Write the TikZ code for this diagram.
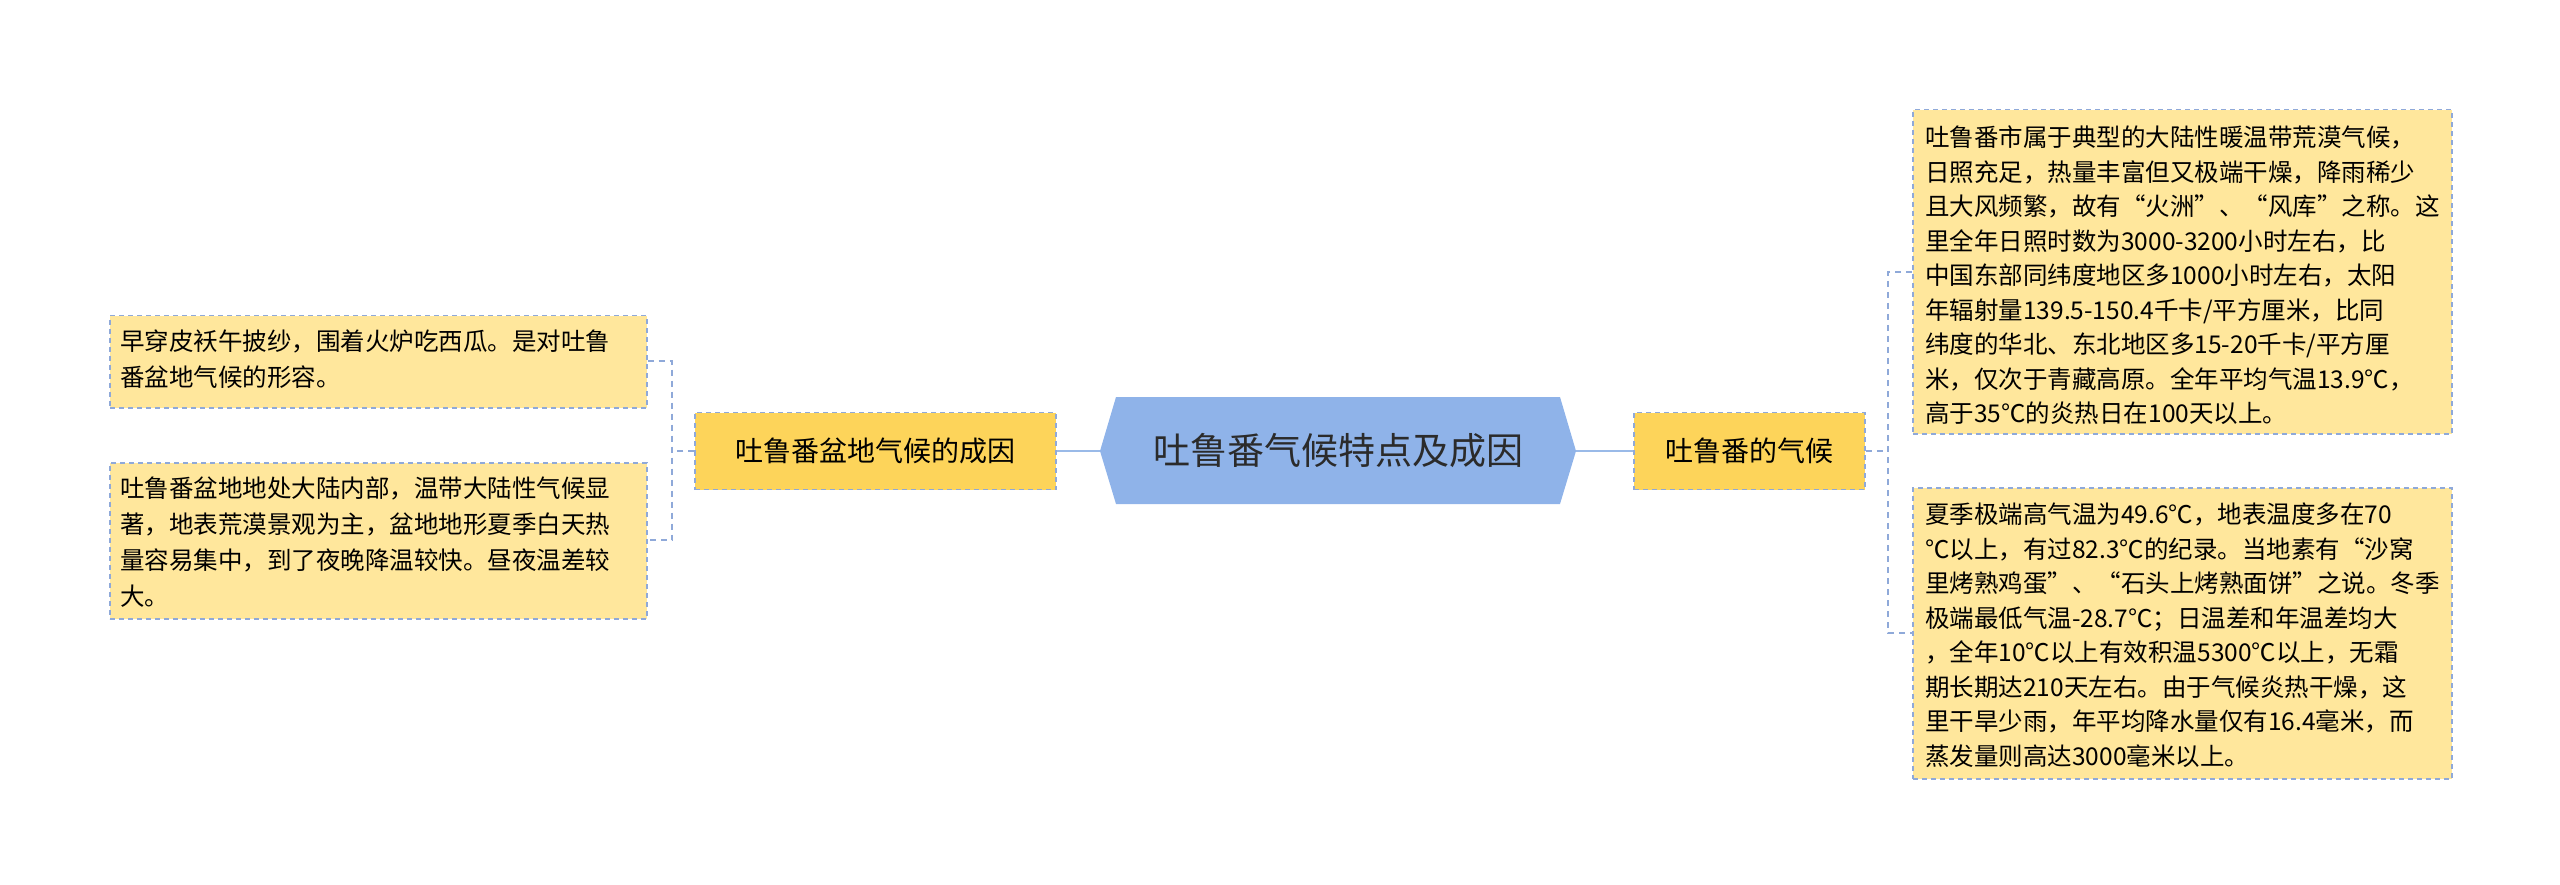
\documentclass[tikz,border=0pt]{standalone}
\usepackage{fontspec}
\setmainfont{Noto Sans CJK SC}
\begin{document}
\begin{tikzpicture}[x=1pt,y=-1pt,
  leaf/.style={fill=leafy,draw=dash,dashed,line width=1.5pt,dash pattern=on 5pt off 4pt,anchor=north west,inner sep=0pt,text width=#1,align=left,font=\fontsize{24}{34.5}\selectfont},
  mid/.style={fill=midy,draw=dash,dashed,line width=1.5pt,dash pattern=on 5pt off 4pt,inner sep=0pt,font=\fontsize{28}{32}\selectfont},
  link/.style={draw=linkc,line width=2.5pt},
  tie/.style={draw=dash,line width=1.5pt,dash pattern=on 6pt off 5pt}]
\definecolor{leafy}{HTML}{FFE79C}
\definecolor{midy}{HTML}{FDD45A}
\definecolor{dash}{HTML}{8FA9D9}
\definecolor{linkc}{HTML}{9ABAE8}
\definecolor{cen}{HTML}{8FB3E9}
\definecolor{txt}{HTML}{2B2B2B}
\useasboundingbox (0,0) rectangle (2560,885);
% center hexagon
\fill[cen] (1100,451) -- (1116,397) -- (1560,397) -- (1576,451) -- (1560,504) -- (1116,504) -- cycle;
\node[inner sep=0pt,font=\fontsize{37}{40}\selectfont,text=txt] (c) at (1338,451) {吐鲁番气候特点及成因};
\coordinate (cl) at (1100,451);
\coordinate (cr) at (1576,451);
% mid nodes
\node[mid,minimum width=361,minimum height=77] (lm) at (875.5,451) {吐鲁番盆地气候的成因};
\node[mid,minimum width=231,minimum height=77] (rm) at (1749.5,451) {吐鲁番的气候};
\draw[link] (cl) -- (lm.east);
\draw[link] (cr) -- (rm.west);
% left leaves
\node[leaf=515,minimum width=537,minimum height=92,text depth=0pt] (l1) at (109,315) {};
\node[anchor=north west,inner sep=0pt,align=left,font=\fontsize{24.5}{36}\selectfont] at (120,330) {早穿皮袄午披纱，围着火炉吃西瓜。是对吐鲁\\番盆地气候的形容。};
\node[leaf=515,minimum width=537,minimum height=156] (l2) at (109,462) {};
\node[anchor=north west,inner sep=0pt,align=left,font=\fontsize{24.5}{36}\selectfont] at (120,477) {吐鲁番盆地地处大陆内部，温带大陆性气候显\\著，地表荒漠景观为主，盆地地形夏季白天热\\量容易集中，到了夜晚降温较快。昼夜温差较\\大。};
% right leaves
\node[leaf=515,minimum width=539,minimum height=324] (r1) at (1912,109) {};
\node[anchor=north west,inner sep=0pt,align=left,font=\fontsize{24.5}{34.5}\selectfont] at (1925,126) {吐鲁番市属于典型的大陆性暖温带荒漠气候，\\日照充足，热量丰富但又极端干燥，降雨稀少\\且大风频繁，故有“火洲”、“风库”之称。这\\里全年日照时数为3000-3200小时左右，比\\中国东部同纬度地区多1000小时左右，太阳\\年辐射量139.5-150.4千卡/平方厘米，比同\\纬度的华北、东北地区多15-20千卡/平方厘\\米，仅次于青藏高原。全年平均气温13.9℃，\\高于35℃的炎热日在100天以上。};
\node[leaf=515,minimum width=539,minimum height=291] (r2) at (1912,487) {};
\node[anchor=north west,inner sep=0pt,align=left,font=\fontsize{24.5}{34.5}\selectfont] at (1925,503) {夏季极端高气温为49.6℃，地表温度多在70\\℃以上，有过82.3℃的纪录。当地素有“沙窝\\里烤熟鸡蛋”、“石头上烤熟面饼”之说。冬季\\极端最低气温-28.7℃；日温差和年温差均大\\，全年10℃以上有效积温5300℃以上，无霜\\期长期达210天左右。由于气候炎热干燥，这\\里干旱少雨，年平均降水量仅有16.4毫米，而\\蒸发量则高达3000毫米以上。};
% ties
\coordinate (lj) at (672,451);
\draw[tie] (lm.west) -- (lj);
\draw[tie] (l1.east |- 0,361) -| (lj) |- (l2.east |- 0,540);
\coordinate (rj) at (1888,451);
\draw[tie] (rm.east) -- (rj);
\draw[tie] (r1.west |- 0,272) -| (rj) |- (r2.west |- 0,633);
\end{tikzpicture}
\end{document}
